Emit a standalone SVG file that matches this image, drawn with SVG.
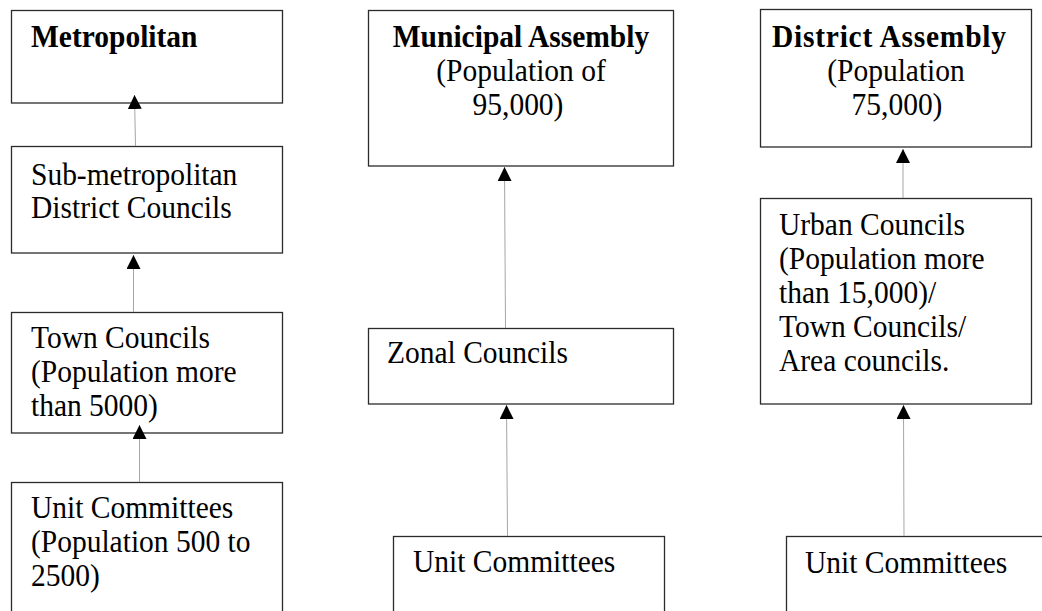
<svg xmlns="http://www.w3.org/2000/svg" width="1042" height="611" viewBox="0 0 1042 611">
  <style>
    .box { fill: #ffffff; stroke: #2b2b2b; stroke-width: 1.3; }
    .t { font-family: "Liberation Serif", "Times New Roman", serif; font-size: 29.5px; fill: #000; }
    .b { font-weight: bold; }
    .c { text-anchor: middle; }
    .link { stroke: #a6a6a6; stroke-width: 1; fill: none; marker-end: url(#arrow); }
  </style>
  <defs>
    <marker id="arrow" viewBox="0 0 14 14" refX="14" refY="7" markerWidth="14" markerHeight="14" markerUnits="userSpaceOnUse" orient="auto">
      <path d="M0,0 L14,7 L0,14 Z" fill="#000"/>
    </marker>
  </defs>
  <rect width="1042" height="611" fill="#ffffff"/>

  <!-- Text is drawn slightly taller than its width (scaled 1.08 about each baseline) -->

  <!-- Metropolitan hierarchy -->
  <g id="metropolitan">
    <rect class="box" x="11.5" y="10.5" width="271" height="92.5"/>
    <text class="t b" x="31" y="47" transform="matrix(1 0 0 1.08 0 -3.76)">Metropolitan</text>
  </g>
  <g id="sub-metropolitan">
    <rect class="box" x="11.5" y="146.5" width="271" height="106.5"/>
    <text class="t" x="31" y="185" transform="matrix(1 0 0 1.08 0 -14.8)">Sub-metropolitan</text>
    <text class="t" x="31" y="218" transform="matrix(1 0 0 1.08 0 -17.44)">District Councils</text>
  </g>
  <g id="town-councils">
    <rect class="box" x="11.5" y="312.5" width="271" height="120.5"/>
    <text class="t" x="31" y="348" transform="matrix(1 0 0 1.08 0 -27.84)">Town Councils</text>
    <text class="t" x="31" y="382" transform="matrix(1 0 0 1.08 0 -30.56)">(Population more</text>
    <text class="t" x="31" y="416" transform="matrix(1 0 0 1.08 0 -33.28)">than 5000)</text>
  </g>
  <g id="unit-committees-metro">
    <rect class="box" x="11.5" y="482.5" width="271" height="140"/>
    <text class="t" x="31" y="518" transform="matrix(1 0 0 1.08 0 -41.44)">Unit Committees</text>
    <text class="t" x="31" y="552" transform="matrix(1 0 0 1.08 0 -44.16)">(Population 500 to</text>
    <text class="t" x="31" y="586" transform="matrix(1 0 0 1.08 0 -46.88)">2500)</text>
  </g>

  <!-- Municipal hierarchy -->
  <g id="municipal-assembly">
    <rect class="box" x="368.5" y="10.5" width="305" height="155.5"/>
    <text class="t b c" x="521" y="47" transform="matrix(1 0 0 1.08 0 -3.76)">Municipal Assembly</text>
    <text class="t c" x="521" y="81" transform="matrix(1 0 0 1.08 0 -6.48)">(Population of</text>
    <text class="t c" x="518" y="115" transform="matrix(1 0 0 1.08 0 -9.2)">95,000)</text>
  </g>
  <g id="zonal-councils">
    <rect class="box" x="368.5" y="328.5" width="305" height="75.5"/>
    <text class="t" x="387" y="363" transform="matrix(1 0 0 1.08 0 -29.04)">Zonal Councils</text>
  </g>
  <g id="unit-committees-municipal">
    <rect class="box" x="393.5" y="536.5" width="271" height="90"/>
    <text class="t" x="413" y="572" transform="matrix(1 0 0 1.08 0 -45.76)">Unit Committees</text>
  </g>

  <!-- District hierarchy -->
  <g id="district-assembly">
    <rect class="box" x="760.5" y="9.5" width="271" height="137.5"/>
    <text class="t b c" x="889" y="47" textLength="234" lengthAdjust="spacing" transform="matrix(1 0 0 1.08 0 -3.76)">District Assembly</text>
    <text class="t c" x="896" y="81" transform="matrix(1 0 0 1.08 0 -6.48)">(Population</text>
    <text class="t c" x="897" y="115" transform="matrix(1 0 0 1.08 0 -9.2)">75,000)</text>
  </g>
  <g id="urban-councils">
    <rect class="box" x="760.5" y="198.5" width="271" height="205.5"/>
    <text class="t" x="779" y="235" transform="matrix(1 0 0 1.08 0 -18.8)">Urban Councils</text>
    <text class="t" x="779" y="269" transform="matrix(1 0 0 1.08 0 -21.52)">(Population more</text>
    <text class="t" x="779" y="303" transform="matrix(1 0 0 1.08 0 -24.24)">than 15,000)/</text>
    <text class="t" x="779" y="337" transform="matrix(1 0 0 1.08 0 -26.96)">Town Councils/</text>
    <text class="t" x="779" y="371" transform="matrix(1 0 0 1.08 0 -29.68)">Area councils.</text>
  </g>
  <g id="unit-committees-district">
    <rect class="box" x="786.5" y="536.5" width="280" height="90"/>
    <text class="t" x="805" y="573" transform="matrix(1 0 0 1.08 0 -45.84)">Unit Committees</text>
  </g>

  <!-- Connectors: each lower body reports upward -->
  <g id="connectors">
    <line class="link" x1="135.5" y1="146" x2="134.5" y2="95"/>
    <line class="link" x1="133.5" y1="312" x2="133.5" y2="255"/>
    <line class="link" x1="139.5" y1="482" x2="139.5" y2="425"/>
    <line class="link" x1="505.5" y1="328" x2="504.5" y2="167"/>
    <line class="link" x1="507.5" y1="536" x2="506.5" y2="405"/>
    <line class="link" x1="903" y1="198" x2="903" y2="149"/>
    <line class="link" x1="904" y1="536" x2="903.5" y2="405"/>
  </g>
</svg>
